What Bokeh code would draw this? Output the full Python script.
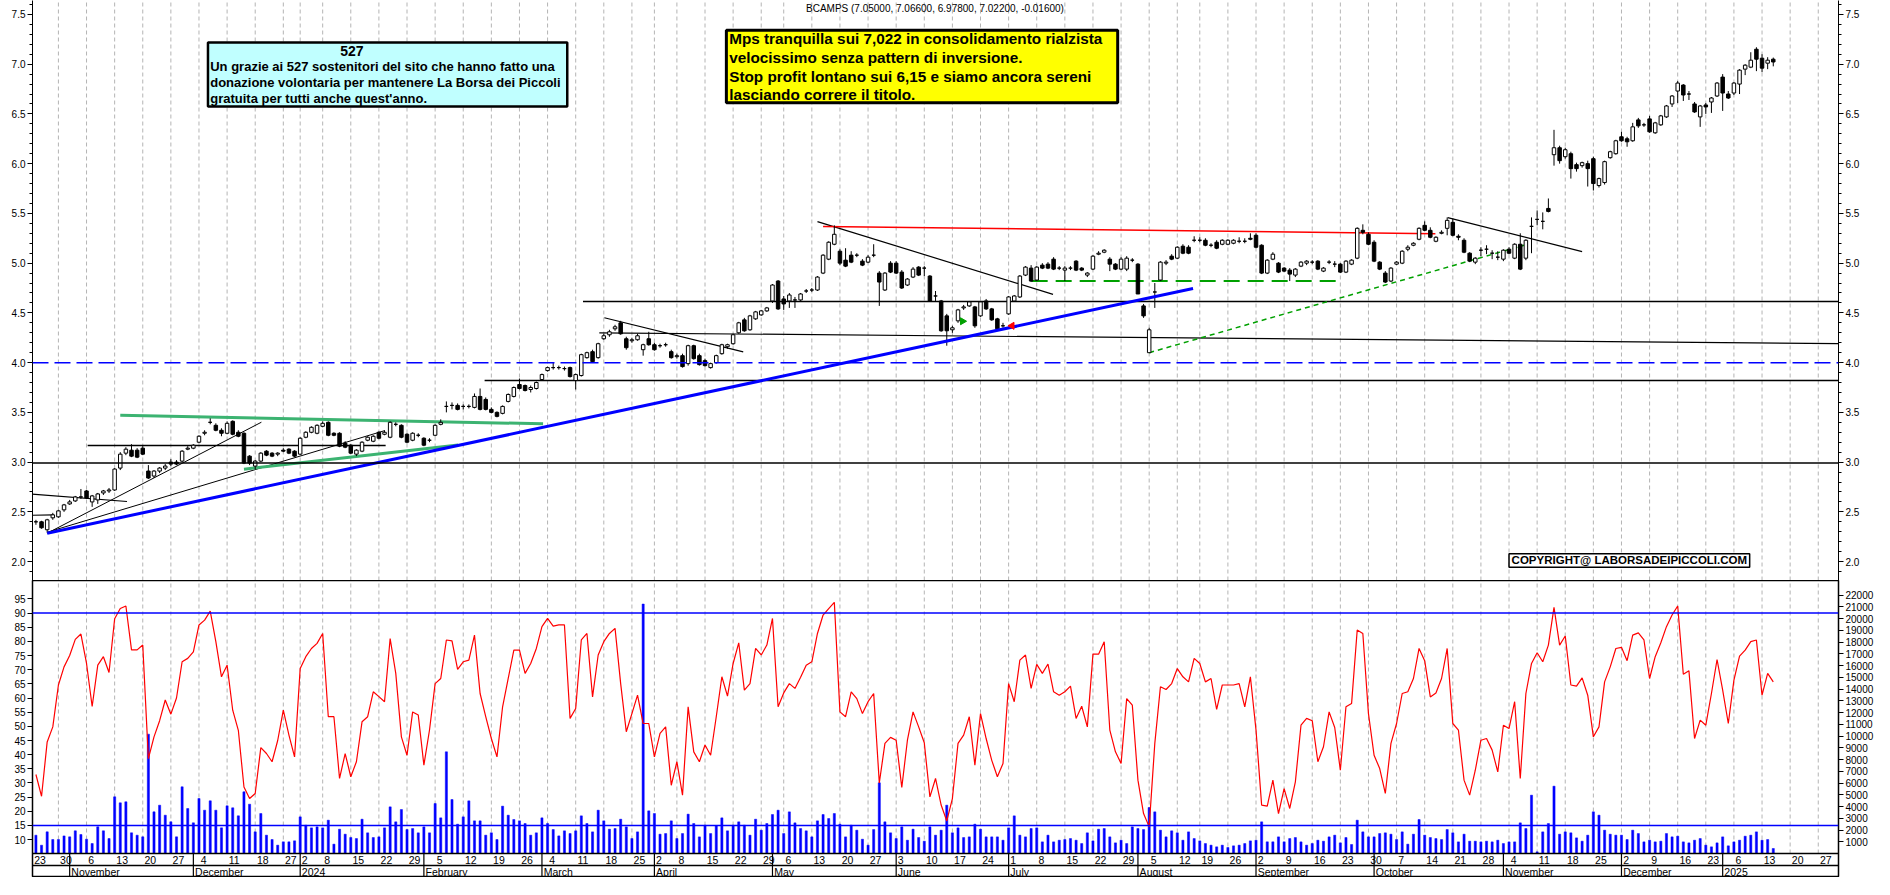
import numpy as np
import pandas as pd
from bokeh.plotting import figure
from bokeh.layouts import column
from bokeh.models import Range1d, LinearAxis, FixedTicker, PrintfTickFormatter, Span
from bokeh.embed import file_html
from bokeh.resources import INLINE
from bokeh.core.properties import value

# ---------------------------------------------------------------- data
TITLE = "BCAMPS (7.05000, 7.06600, 6.97800, 7.02200, -0.01600)"
HOLIDAYS = ["2023-12-25", "2023-12-26", "2024-01-01", "2024-03-29", "2024-04-01",
            "2024-05-01", "2024-08-15", "2024-12-24", "2024-12-25", "2024-12-26",
            "2024-12-31", "2025-01-01"]
CAL_START, CAL_END = "2023-10-23", "2025-01-31"
FIRST_BAR = "2023-10-24"
MONTH_NAMES = ["January", "February", "March", "April", "May", "June", "July",
               "August", "September", "October", "November", "December"]

opens = [
    2.40, 2.40, 2.32, 2.44,
    2.45, 2.52, 2.58, 2.61, 2.65,
    2.71, 2.60, 2.62, 2.69, 2.71,
    2.72, 2.94, 3.09, 3.12, 3.12,
    3.14, 2.91, 2.86, 2.91, 2.94,
    3.00, 3.00, 3.01, 3.13, 3.14,
    3.20, 3.29, 3.40, 3.37, 3.32,
    3.29, 3.41, 3.30, 3.29, 3.06,
    2.96, 3.01, 3.11, 3.09, 3.08,
    3.12, 3.13, 3.11,
    3.08, 3.25, 3.30, 3.29,
    3.36, 3.40, 3.29, 3.29, 3.19,
    3.17, 3.08, 3.11, 3.22, 3.21,
    3.30, 3.28, 3.25, 3.38, 3.37,
    3.28, 3.22, 3.27, 3.24, 3.22,
    3.27, 3.38, 3.56, 3.57, 3.57,
    3.56, 3.56, 3.55, 3.66, 3.63,
    3.53, 3.50, 3.49, 3.61, 3.66,
    3.78, 3.77, 3.73, 3.74, 3.83,
    3.92, 3.95, 3.95, 3.94, 3.95,
    3.82, 3.87, 4.05, 4.11, 4.05,
    4.24, 4.28, 4.34, 4.40, 4.24,
    4.22, 4.23, 4.13, 4.24,
    4.18, 4.17, 4.18, 4.11,
    4.06, 4.07, 3.99, 4.17, 4.07,
    4.02, 3.95, 4.00, 4.09, 4.16,
    4.19, 4.30, 4.43, 4.33, 4.44,
    4.48, 4.52, 4.62, 4.82,
    4.64, 4.62, 4.63, 4.63, 4.72,
    4.73, 4.73, 4.90, 5.04, 5.19,
    5.12, 5.03, 5.08, 5.08, 5.02,
    5.01, 5.08, 4.90, 4.73, 5.00,
    5.00, 4.91, 4.78, 4.86, 4.96,
    4.95, 4.87, 4.67, 4.62, 4.47,
    4.33, 4.42, 4.55, 4.57, 4.56,
    4.47, 4.62, 4.54, 4.44, 4.37,
    4.49, 4.62, 4.66, 4.88, 4.95,
    4.83, 4.98, 4.99, 5.04, 4.95,
    4.93, 4.95, 5.02, 4.95, 4.88,
    4.94, 5.09, 5.11, 5.04, 4.99,
    4.94, 4.94, 5.03, 4.99, 4.57,
    4.10, 4.71, 4.83, 5.00, 5.07,
    5.05, 5.17, 5.16, 5.23,
    5.23, 5.23, 5.18, 5.21, 5.19,
    5.19, 5.20, 5.22, 5.22, 5.25,
    5.28, 5.18, 4.90, 5.04, 5.00,
    4.95, 4.93, 4.88, 4.97, 5.00,
    5.01, 5.02, 4.92, 5.01, 4.99,
    4.99, 4.91, 4.99, 5.05, 5.33,
    5.29, 5.21, 5.01, 4.90, 4.82,
    4.99, 5.00, 5.14, 5.18, 5.24,
    5.38, 5.33, 5.22, 5.30, 5.35,
    5.41, 5.27, 5.23, 5.10, 5.01,
    5.13, 5.14, 5.10, 5.06, 5.04,
    5.14, 5.05, 5.19, 5.05, 5.37,
    5.44, 5.42, 5.55, 6.09, 6.16,
    6.07, 6.10, 5.99, 5.98, 6.00,
    6.05, 5.78, 5.81, 6.06, 6.10,
    6.27, 6.25, 6.23, 6.44, 6.39,
    6.45, 6.31, 6.39, 6.47, 6.60,
    6.73, 6.79, 6.70, 6.60, 6.47,
    6.59, 6.62,
    6.68, 6.87, 6.70,
    6.71, 6.80, 6.95, 6.97, 7.15,
    7.06, 7.01, 7.05,
]

highs = [
    2.42, 2.41, 2.43, 2.49,
    2.52, 2.58, 2.62, 2.66, 2.73,
    2.72, 2.67, 2.69, 2.72, 2.74,
    2.94, 3.10, 3.15, 3.18, 3.14,
    3.16, 2.97, 2.92, 2.95, 2.98,
    3.03, 3.02, 3.12, 3.16, 3.18,
    3.27, 3.32, 3.44, 3.39, 3.34,
    3.41, 3.42, 3.32, 3.30, 3.07,
    3.02, 3.10, 3.12, 3.10, 3.10,
    3.14, 3.14, 3.12,
    3.25, 3.31, 3.36, 3.38,
    3.41, 3.41, 3.30, 3.30, 3.21,
    3.18, 3.13, 3.21, 3.26, 3.27,
    3.31, 3.32, 3.41, 3.40, 3.38,
    3.29, 3.30, 3.29, 3.25, 3.24,
    3.38, 3.43, 3.61, 3.60, 3.59,
    3.58, 3.58, 3.69, 3.74, 3.65,
    3.55, 3.51, 3.57, 3.69, 3.76,
    3.84, 3.78, 3.77, 3.81, 3.89,
    3.96, 4.00, 3.97, 3.96, 3.96,
    3.89, 4.09, 4.11, 4.13, 4.20,
    4.29, 4.33, 4.38, 4.42, 4.26,
    4.25, 4.29, 4.19, 4.31,
    4.20, 4.19, 4.20, 4.13,
    4.09, 4.09, 4.18, 4.18, 4.09,
    4.04, 4.00, 4.08, 4.19, 4.19,
    4.29, 4.41, 4.45, 4.48, 4.52,
    4.53, 4.56, 4.79, 4.83,
    4.67, 4.70, 4.66, 4.70, 4.74,
    4.75, 4.87, 5.09, 5.22, 5.38,
    5.14, 5.15, 5.12, 5.10, 5.04,
    5.08, 5.19, 4.92, 4.91, 5.02,
    5.02, 4.93, 4.85, 4.96, 4.97,
    4.97, 4.88, 4.72, 4.63, 4.49,
    4.37, 4.54, 4.58, 4.62, 4.57,
    4.62, 4.64, 4.55, 4.45, 4.40,
    4.67, 4.68, 4.88, 4.97, 4.98,
    4.97, 5.00, 5.01, 5.06, 4.97,
    4.97, 4.97, 5.03, 4.96, 4.91,
    5.08, 5.12, 5.14, 5.06, 5.00,
    5.06, 5.07, 5.05, 5.00, 4.59,
    4.35, 4.80, 5.02, 5.03, 5.09,
    5.17, 5.19, 5.18, 5.27,
    5.26, 5.25, 5.20, 5.23, 5.24,
    5.24, 5.24, 5.26, 5.25, 5.30,
    5.30, 5.19, 5.04, 5.11, 5.01,
    4.96, 4.95, 4.95, 5.02, 5.03,
    5.03, 5.03, 4.96, 5.03, 5.02,
    5.00, 5.03, 5.04, 5.36, 5.39,
    5.31, 5.23, 5.02, 4.92, 4.96,
    5.02, 5.13, 5.18, 5.21, 5.36,
    5.42, 5.36, 5.27, 5.33, 5.46,
    5.45, 5.29, 5.25, 5.11, 5.06,
    5.16, 5.18, 5.13, 5.12, 5.14,
    5.16, 5.20, 5.30, 5.24, 5.46,
    5.53, 5.51, 5.65, 6.34, 6.18,
    6.16, 6.12, 6.01, 6.02, 6.03,
    6.07, 5.86, 6.03, 6.13, 6.24,
    6.32, 6.27, 6.41, 6.46, 6.41,
    6.48, 6.42, 6.49, 6.59, 6.69,
    6.83, 6.80, 6.73, 6.62, 6.59,
    6.61, 6.67,
    6.82, 6.90, 6.73,
    6.82, 6.95, 7.00, 7.12, 7.17,
    7.10, 7.07, 7.066,
]

lows = [
    2.37, 2.33, 2.29, 2.42,
    2.44, 2.50, 2.57, 2.60, 2.63,
    2.63, 2.55, 2.58, 2.67, 2.69,
    2.71, 2.92, 3.07, 3.05, 3.04,
    3.07, 2.83, 2.84, 2.89, 2.92,
    2.96, 2.97, 3.00, 3.12, 3.13,
    3.19, 3.27, 3.38, 3.31, 3.26,
    3.28, 3.27, 3.25, 2.98, 2.97,
    2.93, 3.00, 3.06, 3.05, 3.06,
    3.10, 3.08, 3.05,
    3.07, 3.24, 3.29, 3.28,
    3.35, 3.26, 3.26, 3.15, 3.14,
    3.08, 3.06, 3.10, 3.21, 3.20,
    3.23, 3.27, 3.24, 3.36, 3.24,
    3.19, 3.21, 3.25, 3.16, 3.20,
    3.26, 3.37, 3.50, 3.53, 3.52,
    3.53, 3.54, 3.54, 3.52, 3.52,
    3.49, 3.45, 3.48, 3.60, 3.65,
    3.73, 3.71, 3.70, 3.73, 3.82,
    3.91, 3.93, 3.93, 3.92, 3.85,
    3.73, 3.86, 4.04, 4.00, 4.04,
    4.23, 4.26, 4.32, 4.28, 4.13,
    4.20, 4.22, 4.07, 4.17,
    4.12, 4.15, 4.16, 4.04,
    4.04, 3.95, 3.97, 4.03, 3.97,
    3.96, 3.94, 3.99, 4.08, 4.14,
    4.18, 4.29, 4.31, 4.32, 4.43,
    4.47, 4.51, 4.60, 4.53,
    4.53, 4.55, 4.55, 4.62, 4.70,
    4.71, 4.72, 4.89, 5.03, 5.18,
    4.98, 4.96, 5.00, 5.06, 4.97,
    5.00, 5.06, 4.57, 4.72, 4.90,
    4.89, 4.74, 4.77, 4.85, 4.87,
    4.87, 4.61, 4.62, 4.31, 4.17,
    4.30, 4.40, 4.53, 4.56, 4.35,
    4.46, 4.53, 4.42, 4.33, 4.35,
    4.48, 4.61, 4.65, 4.87, 4.81,
    4.82, 4.94, 4.94, 4.93, 4.93,
    4.82, 4.93, 4.92, 4.92, 4.86,
    4.93, 5.08, 5.10, 4.92, 4.93,
    4.93, 4.92, 5.01, 4.69, 4.45,
    4.10, 4.55, 4.82, 4.98, 5.03,
    5.04, 5.09, 5.09, 5.21,
    5.21, 5.17, 5.16, 5.14, 5.18,
    5.18, 5.19, 5.20, 5.20, 5.23,
    5.15, 4.89, 4.89, 5.03, 4.90,
    4.91, 4.82, 4.86, 4.96, 4.98,
    4.99, 4.93, 4.91, 4.99, 4.96,
    4.90, 4.90, 4.98, 5.04, 5.29,
    5.18, 5.01, 4.93, 4.80, 4.81,
    4.98, 4.99, 5.12, 5.17, 5.23,
    5.32, 5.25, 5.21, 5.29, 5.28,
    5.27, 5.23, 5.10, 5.01, 4.99,
    5.07, 5.09, 5.04, 5.03, 5.02,
    5.09, 5.04, 4.93, 5.03, 5.10,
    5.38, 5.34, 5.51, 5.98, 6.00,
    6.05, 5.85, 5.92, 5.96, 5.77,
    5.73, 5.76, 5.79, 6.05, 6.09,
    6.22, 6.17, 6.22, 6.36, 6.37,
    6.31, 6.30, 6.38, 6.46, 6.57,
    6.61, 6.63, 6.64, 6.51, 6.37,
    6.50, 6.51,
    6.67, 6.53, 6.65,
    6.69, 6.70, 6.89, 6.96, 6.93,
    6.92, 6.95, 6.978,
]

closes = [
    2.40, 2.34, 2.42, 2.47,
    2.51, 2.57, 2.60, 2.65, 2.65,
    2.64, 2.66, 2.68, 2.71, 2.72,
    2.93, 3.08, 3.13, 3.06, 3.05,
    3.08, 2.84, 2.91, 2.94, 2.96,
    2.98, 2.98, 3.11, 3.14, 3.17,
    3.26, 3.30, 3.40, 3.32, 3.29,
    3.39, 3.28, 3.26, 2.99, 2.99,
    3.01, 3.09, 3.07, 3.06, 3.09,
    3.11, 3.09, 3.06,
    3.24, 3.30, 3.35, 3.37,
    3.39, 3.27, 3.27, 3.16, 3.15,
    3.09, 3.12, 3.20, 3.25, 3.26,
    3.24, 3.30, 3.40, 3.38, 3.25,
    3.20, 3.29, 3.27, 3.17, 3.22,
    3.37, 3.40, 3.56, 3.57, 3.53,
    3.56, 3.56, 3.66, 3.53, 3.53,
    3.50, 3.46, 3.56, 3.68, 3.75,
    3.74, 3.72, 3.75, 3.80, 3.88,
    3.95, 3.95, 3.95, 3.94, 3.86,
    3.88, 4.08, 4.10, 4.01, 4.19,
    4.27, 4.31, 4.36, 4.29, 4.15,
    4.23, 4.27, 4.18, 4.18,
    4.13, 4.17, 4.18, 4.05,
    4.07, 3.96, 4.17, 4.04, 3.98,
    3.97, 3.99, 4.07, 4.18, 4.18,
    4.28, 4.40, 4.32, 4.47, 4.51,
    4.52, 4.55, 4.78, 4.54,
    4.59, 4.68, 4.63, 4.69, 4.72,
    4.73, 4.86, 5.08, 5.21, 5.29,
    5.00, 4.97, 5.01, 5.08, 4.98,
    5.06, 5.08, 4.81, 4.90, 4.91,
    4.90, 4.75, 4.84, 4.94, 4.88,
    4.95, 4.62, 4.67, 4.32, 4.32,
    4.35, 4.53, 4.56, 4.61, 4.37,
    4.61, 4.54, 4.43, 4.34, 4.37,
    4.66, 4.67, 4.87, 4.96, 4.82,
    4.96, 4.95, 4.95, 4.94, 4.95,
    4.95, 4.95, 4.93, 4.93, 4.90,
    5.07, 5.10, 5.13, 4.99, 4.94,
    5.04, 5.05, 5.03, 4.69, 4.47,
    4.33, 4.71, 5.01, 5.01, 5.04,
    5.16, 5.10, 5.10, 5.23,
    5.23, 5.18, 5.18, 5.15, 5.23,
    5.23, 5.23, 5.22, 5.22, 5.24,
    5.16, 4.90, 5.03, 5.09, 4.91,
    4.92, 4.89, 4.94, 5.01, 5.02,
    5.01, 4.94, 4.95, 5.01, 4.99,
    4.91, 5.02, 5.03, 5.35, 5.31,
    5.19, 5.02, 4.94, 4.81, 4.95,
    5.01, 5.12, 5.16, 5.20, 5.35,
    5.33, 5.26, 5.26, 5.31, 5.43,
    5.28, 5.26, 5.11, 5.02, 5.05,
    5.13, 5.14, 5.10, 5.06, 5.13,
    5.10, 5.19, 4.94, 5.23, 5.37,
    5.44, 5.42, 5.52, 6.16, 6.03,
    6.14, 5.95, 5.95, 6.01, 5.95,
    5.80, 5.85, 6.02, 6.12, 6.23,
    6.23, 6.22, 6.37, 6.38, 6.39,
    6.32, 6.41, 6.48, 6.58, 6.68,
    6.81, 6.69, 6.70, 6.52, 6.58,
    6.57, 6.66,
    6.81, 6.71, 6.66,
    6.81, 6.94, 6.99, 7.04, 7.05,
    6.96, 7.04, 7.022,
]

oscillator = [
    33, 25.3, 44.5, 49.8,
    64.6, 71, 75, 80.7, 82.6,
    72.2, 57, 71.6, 74.6, 69,
    88, 91.6, 92.5, 77, 77,
    78.7, 38.6, 46.3, 52, 59.3,
    54.3, 60, 72.8, 74, 76.3,
    85.8, 87.5, 90.7, 79.9, 67.5,
    71.6, 55.7, 48.6, 28.6, 24.5,
    26.3, 42.5, 40.4, 37.5, 45,
    55.7, 46.9, 39.2,
    70.4, 74.6, 77.5, 79.3,
    82.8, 53.4, 53.4, 31.6, 40.4,
    32.2, 37.5, 51.6, 53.4, 62.2,
    60.5, 58.7, 81, 68.7, 46.3,
    39.8, 55.1, 54, 36.3, 48.7,
    65.1, 66.9, 80.5, 80.2, 70.1,
    72.8, 73.4, 82.2, 61.6, 53.4,
    45.7, 39.2, 56.9, 66.9, 76.9,
    76.9, 68.7, 72.2, 77.5, 85.2,
    88.1, 85.4, 85.8, 85.8, 52.8,
    56.3, 80.5, 82.8, 60.4, 75.2,
    79.9, 82.8, 84.6, 65.1, 48.1,
    54.5, 61, 51, 51,
    39.2, 47.5, 49.8, 29.2,
    37.5, 25.7, 56.9, 41, 37.5,
    43.4, 39.8, 53.4, 67.5, 60.7,
    72.2, 79.5, 62.8, 65.1, 77.5,
    75.2, 78.7, 88.1, 56.9,
    61.8, 65.1, 63.4, 67.3, 71.6,
    72.8, 82.8, 89.3, 91.6, 93.8,
    55.1, 53.4, 62.2, 59.8, 54.5,
    58.7, 61.6, 30, 44, 46.1,
    45.1, 28.4, 45.1, 55.1, 49.8,
    44.2, 25.1, 31.6, 22.2, 16.6,
    24.5, 44, 46.9, 53.4, 36.3,
    54.5, 45.7, 38, 32.2, 36.9,
    65.1, 58.7, 73.4, 75.2, 63.4,
    71.9, 68.7, 72, 62.2, 61,
    62.2, 64.2, 52.8, 57.1, 49.8,
    75.5, 75.5, 79.9, 48.7, 41,
    36.9, 59.8, 57.5, 31, 19.2,
    14.5, 44, 64, 63, 65.1,
    70.4, 67.5, 65.7, 74,
    72.2, 65.7, 66.9, 56, 64.6,
    64.6, 64.6, 65.1, 56.9, 67.5,
    48.7, 22.2, 21.8, 31, 19.2,
    28, 21, 30.4, 50.4, 52.8,
    52, 37.5, 42.8, 55.1, 49.6,
    34.5, 56.9, 58.1, 84, 82.8,
    54.5, 39.8, 35.1, 26.3, 44,
    51, 61.6, 62.2, 66.9, 77.5,
    73.2, 60.4, 61.8, 66.9, 77.5,
    51, 48.7, 31, 25.7, 34.5,
    45.1, 45.7, 41.6, 33.9, 50.4,
    49.2, 58.7, 31.6, 61.6, 72.2,
    76, 72.8, 78.7, 92, 78.7,
    81.9, 64.6, 64.2, 67.1, 61,
    46.3, 49.8, 65.7, 71, 77.5,
    77.9, 73.2, 82.2, 83, 80.5,
    66.9, 74.6, 79.5, 85.2, 89.3,
    92.5, 68.4, 69.6, 45.7, 52.2,
    50.4, 61.6,
    73.6, 62.8, 51,
    66.3, 74.8, 76.9, 79.9, 80.5,
    61, 68.7, 65.7,
]

volume = [
    1558, 706, 1842, 1190,
    1190, 1500, 1416, 1930, 1615,
    1217, 848, 2268, 1930, 1274,
    4824, 4313, 4400, 1760, 1560,
    1416, 10163, 3546, 4114, 3262,
    2696, 1416, 5676, 3830, 2610,
    4682, 3688, 4484, 3688, 2183,
    4057, 3888, 3206, 5254, 4200,
    1842, 3404, 1560, 1190, 710,
    994, 994, 1080,
    3120, 2410, 2183, 2268,
    2183, 2836, 795, 2070, 1644,
    1360, 1274, 2920, 1760, 1360,
    1416, 2183, 3972, 2696, 3745,
    2040, 2126, 1760, 2268, 1760,
    4256, 3035, 8658, 4597, 2495,
    3120, 4484, 2780, 2780, 1560,
    1760, 1190, 4030, 3262, 2893,
    2780, 2552, 1560, 1760, 3035,
    2552, 2040, 1500, 1930, 1700,
    1930, 3206, 2552, 1842, 3688,
    2780, 2070, 2126, 2920, 2268,
    1274, 1842, 21240, 3632,
    3404, 1644, 1700, 2780,
    1274, 1700, 3350, 2552, 1416,
    2410, 1700, 2353, 3035, 1930,
    2410, 2696, 2410, 1560, 2920,
    1984, 2552, 3319, 3688,
    1700, 3546, 2610, 2126, 1930,
    1416, 2780, 3319, 2978, 3404,
    2495, 1416, 2410, 1984, 1217,
    710, 2040, 6020, 2696, 1760,
    1274, 2268, 1132, 2070, 1360,
    1047, 2268, 1560, 1984, 4114,
    1760, 2183, 1360, 1416, 2495,
    2070, 1416, 1416, 1416, 1132,
    2183, 3206, 1560, 1416, 2126,
    2183, 990, 1560, 990, 1132,
    1190, 1274, 1132, 848, 1760,
    1075, 2070, 2126, 1416, 905,
    1132, 848, 2268, 2126, 2040,
    3915, 3546, 1984, 1416, 1930,
    1760, 1132, 1842, 1274,
    1075, 848, 710, 568, 710,
    511, 653, 710, 848, 1075,
    1132, 2696, 994, 994, 1416,
    994, 1274, 1360, 990, 710,
    848, 1132, 1047, 1416, 1560,
    905, 1360, 767, 2836, 1842,
    1416, 1416, 1700, 1760, 1644,
    1190, 1842, 795, 1644, 2893,
    1560, 1360, 1274, 1190, 2040,
    1760, 990, 1644, 1047, 1047,
    990, 1047, 990, 1132, 848,
    990, 990, 2610, 2126, 4966,
    142, 1842, 2552, 5733, 1644,
    1842, 1760, 1331, 1047, 1560,
    3546, 3262, 1984, 1644, 1560,
    1560, 1190, 1984, 1700, 990,
    1132, 990, 1047, 1700, 1416,
    1473, 990, 905, 1132, 1274,
    710, 568,
    905, 1416, 653,
    990, 1132, 1473, 1560, 1842,
    1132, 1190, 426,
]

# analyst drawings: x in trading-day index (0 = 23 Oct 2023), y in price
blue_trend = ([3.0, 206.8], [2.285, 4.745])
fan_1 = ([3.0, 41.1], [2.285, 3.401])
fan_2 = ([3.0, 63.0], [2.295, 3.316])
early_1 = ([-1.4, 17.2], [2.685, 2.604])
early_2 = ([-1.4, 4.2], [2.464, 2.470])
res_317 = ([10.2, 63.2], [3.167, 3.167])
green_top = ([16.0, 91.2], [3.472, 3.385])
green_bottom = ([38.0, 76.1], [2.929, 3.173])
sup_382 = ([80.8, 400.0], [3.82, 3.82])
res_462 = ([98.3, 400.0], [4.615, 4.615])
sup_430 = ([101.2, 321.6], [4.30, 4.19])
march_down = ([102.1, 126.8], [4.451, 4.108])
may_down = ([140.0, 181.9], [5.418, 4.686])
red_top = ([141.0, 249.9], [5.369, 5.295])
oct_down = ([252.1, 276.0], [5.458, 5.116])
green_dash_flat = ([178.1, 232.2], [4.82, 4.82])
green_dash_up = ([199.0, 265.7], [4.10, 5.18])
level_400 = 4.0
level_299 = 2.99
arrow_green = (165.8, 4.416)
arrow_red = (174.6, 4.37)
osc_upper, osc_lower = 90, 15

note_527_title = "527"
note_527 = ["Un grazie ai 527 sostenitori del sito che hanno fatto una",
            "donazione volontaria per mantenere La Borsa dei Piccoli",
            "gratuita per tutti anche quest'anno."]
note_mps = ["Mps tranquilla sui 7,022 in consolidamento rialzista",
            "velocissimo senza pattern di inversione.",
            " Stop profit lontano sui 6,15 e siamo ancora sereni",
            "lasciando correre il titolo."]
copyright_text = "COPYRIGHT@ LABORSADEIPICCOLI.COM"

n = len(closes)
for name, arr in [("opens", opens), ("highs", highs), ("lows", lows),
                  ("oscillator", oscillator), ("volume", volume)]:
    assert len(arr) == n, (name, len(arr), n)

# ---------------------------------------------------------------- calendar
cal = [d for d in pd.bdate_range(CAL_START, CAL_END) if d.strftime("%Y-%m-%d") not in HOLIDAYS]
pos = {d.strftime("%Y-%m-%d"): k for k, d in enumerate(cal)}
x0 = pos[FIRST_BAR]
xs = list(range(x0, x0 + n))
assert cal[xs[-1]].strftime("%Y-%m-%d") == "2025-01-15", cal[xs[-1]]

# ---------------------------------------------------------------- layout
FONT = "Liberation Sans"
FW = 1806
X_START, X_END = 0.39, 321.6
P1_H, OSC_H, DATE_H = 580, 273, 24
PRICE_LO, PRICE_HI = 1.81, 7.64
OSC_LO, OSC_HI = 5.1, 101.5
VOL_HI = 23246
osc_px = (OSC_HI - OSC_LO) / OSC_H
vol_px = VOL_HI / OSC_H
OSC_MIN = OSC_LO - DATE_H * osc_px
ROW_DIV = OSC_LO - 12 * osc_px
DAY_Y = OSC_LO - 6 * osc_px
MONTH_Y = ROW_DIV - 6 * osc_px
VOL_MIN = -DATE_H * vol_px

x_range = Range1d(X_START, X_END)

# week ticks (first trading day of each week, skipping cramped ones)
week_first, prev = [], None
for k, d in enumerate(cal):
    key = d.isocalendar()[:2]
    if key != prev:
        week_first.append(k)
        prev = key
week_ticks = []
for k in week_first:
    if week_ticks and k - week_ticks[-1] < 3:
        continue
    week_ticks.append(k)
grid_ticks = [k for k in week_ticks if X_START < k < X_END]
day_ticks = [k for k in week_ticks if X_START - 6 < k < X_END]

month_first, prevm = [], None
for k, d in enumerate(cal):
    key = (d.year, d.month)
    if key != prevm:
        if k > 0:
            month_first.append(k)
        prevm = key
month_first = [k for k in month_first if k < X_END]


def style_axis(ax, minor=True):
    ax.axis_line_color = "black"
    ax.major_tick_line_color = "black"
    ax.minor_tick_line_color = "black" if minor else None
    ax.major_tick_out = 5
    ax.major_tick_in = 0
    ax.minor_tick_out = 3
    ax.minor_tick_in = 0
    ax.major_label_text_font = FONT
    ax.major_label_text_font_size = "10px"
    ax.major_label_text_color = "black"
    ax.major_label_standoff = 2


# ---------------------------------------------------------------- price panel
p1 = figure(frame_width=FW, frame_height=P1_H, x_range=x_range,
            y_range=Range1d(PRICE_LO, PRICE_HI), output_backend="svg",
            toolbar_location=None, x_axis_location=None,
            min_border_left=32, min_border_right=36, min_border_top=0, min_border_bottom=0,
            outline_line_color=None, background_fill_color="white", border_fill_color="white")
p1.grid.visible = False
price_ticker = FixedTicker(ticks=list(np.round(np.arange(2.0, 7.51, 0.5), 2)),
                           minor_ticks=list(np.round(np.arange(1.9, 7.61, 0.1), 2)))
p1.yaxis.ticker = price_ticker
p1.yaxis.formatter = PrintfTickFormatter(format="%.1f")
style_axis(p1.yaxis[0])
rax = LinearAxis(ticker=price_ticker, formatter=PrintfTickFormatter(format="%.1f"))
style_axis(rax)
p1.add_layout(rax, "right")

p1.segment(x0=grid_ticks, y0=[PRICE_LO] * len(grid_ticks), x1=grid_ticks,
           y1=[PRICE_HI] * len(grid_ticks), line_color="#b4b4b4", line_dash="4 3", line_width=1)

p1.add_layout(Span(location=level_400, dimension="width", line_color="#0000FF",
                   line_dash="16 6", line_width=1.5))
p1.add_layout(Span(location=level_299, dimension="width", line_color="black", line_width=1.5))

for (lx, ly), col, w in [(sup_382, "black", 1.5), (res_462, "black", 1.5), (sup_430, "black", 1.2),
                         (res_317, "black", 1.5), (early_1, "black", 1.2), (early_2, "black", 1.2),
                         (fan_1, "black", 1), (fan_2, "black", 1),
                         (march_down, "black", 1.2), (may_down, "black", 1.2), (oct_down, "black", 1.2),
                         (red_top, "#FF0000", 1.5),
                         (green_top, "#3CB371", 3), (green_bottom, "#3CB371", 3)]:
    p1.line(lx, ly, line_color=col, line_width=w)
p1.line(*green_dash_flat, line_color="#00A000", line_width=2, line_dash="16 8")
p1.line(*green_dash_up, line_color="#00A000", line_width=1.5, line_dash="5 4")

# candles
up = [c >= o for o, c in zip(opens, closes)]
p1.segment(x0=xs, y0=highs, x1=xs, y1=lows, line_color="black", line_width=1)
p1.vbar(x=xs, width=0.62, top=[max(o, c) for o, c in zip(opens, closes)],
        bottom=[min(o, c) for o, c in zip(opens, closes)],
        fill_color=["white" if u else "black" for u in up], line_color="black", line_width=1)

p1.line(*blue_trend, line_color="#0000FF", line_width=3)

p1.scatter(x=[arrow_green[0]], y=[arrow_green[1]], marker="triangle", size=7,
           angle=-np.pi / 2, fill_color="#00A000", line_color="#00A000")
p1.scatter(x=[arrow_red[0]], y=[arrow_red[1]], marker="triangle", size=7,
           angle=np.pi / 2, fill_color="#FF0000", line_color="#FF0000")

# annotation boxes
p1.quad(left=[31.6], right=[95.5], bottom=[6.575], top=[7.217],
        fill_color="#C0FFFF", line_color="black", line_width=2.5)
p1.quad(left=[123.8], right=[193.4], bottom=[6.612], top=[7.34],
        fill_color="#FFFF00", line_color="black", line_width=3)
p1.quad(left=[263.0], right=[305.8], bottom=[1.943], top=[2.08],
        fill_color="white", line_color="black", line_width=1.5)

p1.text(x=[57.2], y=[7.137], text=[note_527_title], text_font=value(FONT),
        text_font_style="bold", text_font_size=value("14px"), text_color="black",
        text_align="center", text_baseline="middle")
p1.text(x=[32.0] * 3, y=[6.973, 6.816, 6.656], text=note_527, text_font=value(FONT),
        text_font_style="bold", text_font_size=value("13px"), text_color="black",
        text_align="left", text_baseline="middle")
p1.text(x=[124.3] * 4, y=[7.256, 7.066, 6.881, 6.695], text=note_mps, text_font=value(FONT),
        text_font_style="bold", text_font_size=value("15.3px"), text_color="black",
        text_align="left", text_baseline="middle")
p1.text(x=[284.4], y=[2.012], text=[copyright_text], text_font=value(FONT),
        text_font_style="bold", text_font_size=value("11.5px"), text_color="black",
        text_align="center", text_baseline="middle")
p1.text(x=[160.9], y=[7.555], text=[TITLE], text_font=value(FONT),
        text_font_size=value("10px"), text_color="black",
        text_align="center", text_baseline="middle")

# ---------------------------------------------------------------- oscillator / volume panel
p2 = figure(frame_width=FW, frame_height=OSC_H + DATE_H, x_range=x_range,
            y_range=Range1d(OSC_MIN, OSC_HI), output_backend="svg",
            toolbar_location=None, x_axis_location=None,
            min_border_left=32, min_border_right=36, min_border_top=0, min_border_bottom=0,
            outline_line_color="black", outline_line_width=1.5,
            background_fill_color="white", border_fill_color="white")
p2.grid.visible = False
p2.extra_y_ranges = {"vol": Range1d(VOL_MIN, VOL_HI)}
p2.yaxis.ticker = FixedTicker(ticks=list(range(10, 96, 5)), minor_ticks=[])
p2.yaxis.formatter = PrintfTickFormatter(format="%d")
style_axis(p2.yaxis[0], minor=False)
vax = LinearAxis(y_range_name="vol", ticker=FixedTicker(ticks=list(range(1000, 22001, 1000)), minor_ticks=[]),
                 formatter=PrintfTickFormatter(format="%d"))
style_axis(vax, minor=False)
p2.add_layout(vax, "right")

p2.segment(x0=grid_ticks, y0=[OSC_LO] * len(grid_ticks), x1=grid_ticks,
           y1=[OSC_HI] * len(grid_ticks), line_color="#b4b4b4", line_dash="4 3", line_width=1)
p2.vbar(x=xs, width=0.38, top=volume, bottom=0, y_range_name="vol",
        fill_color="#0000FF", line_color="#0000FF", line_width=0.5)
p2.line(xs, oscillator, line_color="#FF0000", line_width=1.2)
for lvl in (osc_upper, osc_lower):
    p2.add_layout(Span(location=lvl, dimension="width", line_color="#0000FF", line_width=1.5))

# date rows
p2.add_layout(Span(location=OSC_LO, dimension="width", line_color="black", line_width=1.5))
p2.add_layout(Span(location=ROW_DIV, dimension="width", line_color="black", line_width=1.5))
p2.text(x=[max(k, X_START) + 0.3 for k in day_ticks], y=[DAY_Y] * len(day_ticks),
        text=[str(cal[k].day) for k in day_ticks], text_font=value(FONT),
        text_font_size=value("10.5px"), text_color="black", text_align="left", text_baseline="middle")
p2.segment(x0=month_first, y0=[OSC_MIN] * len(month_first), x1=month_first,
           y1=[OSC_LO] * len(month_first), line_color="black", line_width=1.2)
p2.text(x=[k + 0.3 for k in month_first], y=[MONTH_Y] * len(month_first),
        text=[str(cal[k].year) if cal[k].month == 1 else MONTH_NAMES[cal[k].month - 1] for k in month_first],
        text_font=value(FONT), text_font_size=value("10.5px"), text_color="black",
        text_align="left", text_baseline="middle")

layout = column(p1, p2, spacing=0)
open("out.html", "w").write(file_html(layout, INLINE))
